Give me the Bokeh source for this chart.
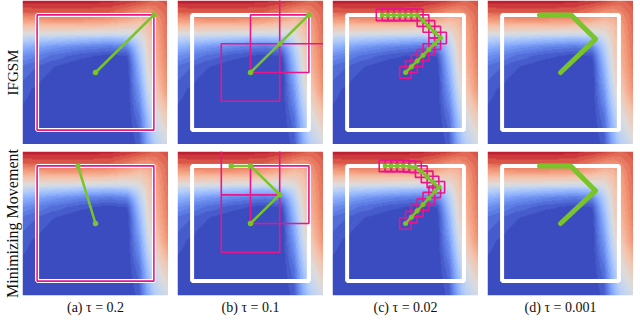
import numpy as np
from bokeh.plotting import figure
from bokeh.layouts import gridplot
from bokeh.models import Range1d, LinearAxis, FixedTicker, LinearColorMapper
from bokeh.embed import file_html
from bokeh.resources import INLINE

# ---------------- data ----------------
# coarse estimate of the background score field (0 = blue, 1 = red)
field_x = [-1.25, -0.75, -0.25, 0.25, 0.55, 0.75, 0.9, 1.05, 1.25]
field_y = [1.25, 1.05, 0.9, 0.78, 0.68, 0.58, 0.45, 0.3, 0.1, -0.3, -0.8, -1.25]
field_v = [
    [0.95, 0.95, 0.95, 0.94, 0.92, 0.90, 0.87, 0.85, 0.88],
    [0.85, 0.86, 0.86, 0.85, 0.80, 0.75, 0.74, 0.78, 0.85],
    [0.72, 0.74, 0.74, 0.72, 0.68, 0.64, 0.66, 0.74, 0.84],
    [0.60, 0.60, 0.60, 0.58, 0.56, 0.56, 0.62, 0.72, 0.84],
    [0.50, 0.48, 0.47, 0.46, 0.47, 0.50, 0.60, 0.71, 0.83],
    [0.40, 0.36, 0.33, 0.30, 0.33, 0.45, 0.58, 0.70, 0.83],
    [0.28, 0.20, 0.15, 0.12, 0.15, 0.38, 0.56, 0.69, 0.82],
    [0.18, 0.10, 0.05, 0.02, 0.04, 0.33, 0.54, 0.68, 0.81],
    [0.10, 0.04, 0.00, 0.00, 0.00, 0.28, 0.52, 0.66, 0.80],
    [0.05, 0.00, 0.00, 0.00, 0.00, 0.20, 0.45, 0.60, 0.76],
    [0.02, 0.00, 0.00, 0.00, 0.00, 0.10, 0.33, 0.48, 0.60],
    [0.00, 0.00, 0.00, 0.00, 0.00, 0.05, 0.25, 0.38, 0.47],
]

row_labels = ["IFGSM", "Minimizing Movement"]
row_label_sizes = ["15px", "16px"]
captions = ["(a) τ = 0.2", "(b) τ = 0.1", "(c) τ = 0.02", "(d) τ = 0.001"]
box_half = [1.0, 0.5, 0.1, 0.1]

# IFGSM paths
ifgsm_a_x = [0.0, 1.0]
ifgsm_a_y = [0.0, 1.0]
ifgsm_b_x = [0.0, 0.5, 1.0]
ifgsm_b_y = [0.0, 0.5, 1.0]
ifgsm_c_x = [0.0, 0.1, 0.2, 0.3, 0.4, 0.5, 0.6, 0.5, 0.4, 0.3, 0.2, 0.1, 0.0, -0.1, -0.2, -0.3, -0.4]
ifgsm_c_y = [0.0, 0.1, 0.2, 0.3, 0.4, 0.5, 0.6, 0.7, 0.8, 0.9, 1.0, 1.0, 1.0, 1.0, 1.0, 1.0, 1.0]
ifgsm_d_x = [0.0, 0.6, 0.18, -0.36]
ifgsm_d_y = [0.0, 0.58, 1.0, 1.0]

# Minimizing Movement paths
mm_a_x = [0.0, -0.3]
mm_a_y = [0.0, 1.0]
mm_b_x = [0.0, 0.5, 0.0, -0.33]
mm_b_y = [0.0, 0.5, 1.0, 1.0]
mm_c_x = [0.0, 0.1, 0.2, 0.3, 0.4, 0.5, 0.57, 0.47, 0.37, 0.27, 0.17, 0.07, -0.04, -0.14, -0.25, -0.35]
mm_c_y = [0.0, 0.11, 0.22, 0.33, 0.44, 0.55, 0.63, 0.72, 0.81, 0.9, 0.98, 0.99, 1.0, 1.0, 1.0, 1.0]
mm_d_x = [0.0, 0.6, 0.17, -0.36]
mm_d_y = [0.0, 0.57, 1.0, 1.0]

# boxes drawn around iterates (count per panel)
ifgsm_nbox = [1, 3, 17, 0]
mm_nbox = [1, 3, 16, 0]

# ---------------- styling helpers ----------------
GREEN = "#78c42a"
PINK = "#e8168a"
LIM = 1.25

cw_pos = [0.0, 0.125, 0.25, 0.375, 0.5, 0.625, 0.75, 0.875, 1.0]
cw_rgb = [(59, 76, 192), (98, 130, 234), (141, 176, 254), (184, 208, 249),
          (221, 221, 221), (245, 196, 173), (244, 154, 123), (222, 96, 77), (180, 4, 38)]
levels = np.linspace(0, 1, 28)
palette = []
for t in levels:
    r = np.interp(t, cw_pos, [c[0] for c in cw_rgb])
    g = np.interp(t, cw_pos, [c[1] for c in cw_rgb])
    b = np.interp(t, cw_pos, [c[2] for c in cw_rgb])
    palette.append("#%02x%02x%02x" % (int(r), int(g), int(b)))
mapper = LinearColorMapper(palette=palette, low=0, high=1)

# upsample the coarse field for display
n = 150
fx = np.linspace(-LIM, LIM, n)
fy = np.linspace(-LIM, LIM, n)
V = np.array(field_v)
R = np.array([np.interp(fx, field_x, row) for row in V])
ya = np.array(field_y)[::-1]
Ra = R[::-1]
img = np.zeros((n, n))
for i in range(n):
    img[:, i] = np.interp(fy, ya, Ra[:, i])


def hidden_axis(label, size, standoff):
    return LinearAxis(axis_label=label, ticker=FixedTicker(ticks=[]),
                      axis_line_color=None, major_tick_line_color=None,
                      minor_tick_line_color=None, major_tick_out=0, major_tick_in=0,
                      minor_tick_out=0, minor_tick_in=0, major_label_standoff=0,
                      major_label_text_font_size="0px", axis_label_standoff=standoff,
                      axis_label_text_font="Liberation Serif",
                      axis_label_text_font_size=size,
                      axis_label_text_font_style="normal",
                      axis_label_text_color="#111111")


def panel(col, row, xs, ys, nbox):
    p = figure(frame_width=146, frame_height=144,
               x_range=Range1d(-LIM, LIM), y_range=Range1d(-LIM, LIM),
               output_backend="svg", toolbar_location=None,
               x_axis_location=None, y_axis_location=None,
               min_border_left=19 if col == 0 else 9, min_border_right=0,
               min_border_top=0 if row == 0 else 7,
               min_border_bottom=0 if row == 0 else 20,
               outline_line_color=None, background_fill_color="white",
               border_fill_color="white")
    p.grid.visible = False
    p.image(image=[img], x=-LIM, y=-LIM, dw=2 * LIM, dh=2 * LIM, color_mapper=mapper)
    p.rect(x=[0], y=[0], width=2.0, height=2.0, fill_color=None,
           line_color="white", line_width=4)
    if nbox:
        h = box_half[col]
        p.rect(x=xs[:nbox], y=ys[:nbox], width=2 * h, height=2 * h,
               fill_color=None, line_color=PINK, line_width=1.6)
    if col == 3:
        p.line(xs, ys, line_color=GREEN, line_width=5, line_join="round", line_cap="round")
    else:
        p.line(xs, ys, line_color=GREEN, line_width=2.5, line_join="round")
        p.scatter(xs, ys, size=5.5 if col < 2 else 5, fill_color=GREEN,
                  line_color=None)
    if col == 0:
        p.add_layout(hidden_axis(row_labels[row], row_label_sizes[row], 2), "left")
    if row == 1:
        p.add_layout(hidden_axis(captions[col], "14px", 4), "below")
    return p


top_paths = [(ifgsm_a_x, ifgsm_a_y), (ifgsm_b_x, ifgsm_b_y), (ifgsm_c_x, ifgsm_c_y), (ifgsm_d_x, ifgsm_d_y)]
bot_paths = [(mm_a_x, mm_a_y), (mm_b_x, mm_b_y), (mm_c_x, mm_c_y), (mm_d_x, mm_d_y)]

top = [panel(c, 0, top_paths[c][0], top_paths[c][1], ifgsm_nbox[c]) for c in range(4)]
bot = [panel(c, 1, bot_paths[c][0], bot_paths[c][1], mm_nbox[c]) for c in range(4)]

grid = gridplot([top, bot], toolbar_location=None)

open("out.html", "w").write(file_html(grid, INLINE))
